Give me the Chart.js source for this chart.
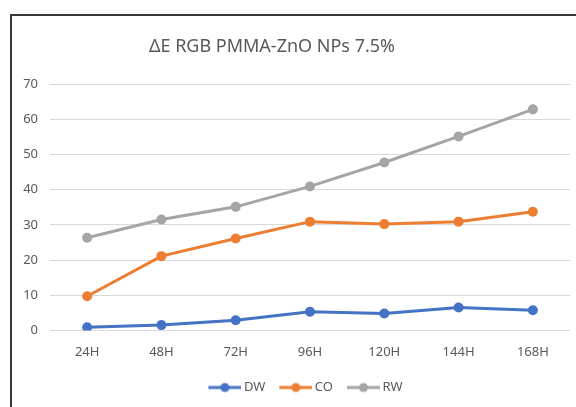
<!DOCTYPE html>
<html>
<head>
<meta charset="utf-8">
<script src="https://cdn.jsdelivr.net/npm/chart.js@4/dist/chart.umd.min.js"></script>
<style>
  html, body { margin: 0; padding: 0; background: #fff; overflow: hidden; }
  #wrap { position: relative; width: 576px; height: 407px; overflow: hidden; }
  #title { position: absolute; left: 0; width: 544px; top: 33px; text-align: center;
           font-family: "Noto Sans", sans-serif; font-size: 18px; color: #595959; }
  canvas { position: absolute; left: 0; top: 0; }
</style>
</head>
<body>
<div id="wrap">
  <canvas id="c" width="576" height="407"></canvas>
  <div id="title">ΔE RGB PMMA-ZnO NPs 7.5%</div>
</div>
<script>
const categories = ["24H", "48H", "72H", "96H", "120H", "144H", "168H"];
const dwValues = [0.9, 1.5, 2.9, 5.3, 4.8, 6.5, 5.7];
const coValues = [9.7, 21.1, 26.1, 30.9, 30.2, 30.9, 33.7];
const rwValues = [26.3, 31.5, 35.1, 40.9, 47.7, 55.1, 62.8];
const seriesNames = ["DW", "CO", "RW"];
const seriesColors = ["#4472C4", "#ED7D31", "#A5A5A5"];

function legendIcon(color) {
  const cv = document.createElement('canvas');
  cv.width = 44; cv.height = 12;
  const ctx = cv.getContext('2d');
  ctx.strokeStyle = color; ctx.lineWidth = 3;
  ctx.beginPath(); ctx.moveTo(11, 6); ctx.lineTo(44, 6); ctx.stroke();
  ctx.fillStyle = color;
  ctx.beginPath(); ctx.arc(27.5, 6, 4.5, 0, Math.PI * 2); ctx.fill();
  return cv;
}

const framePlugin = {
  id: 'frame',
  beforeDraw(chart) {
    const ctx = chart.ctx;
    ctx.save();
    ctx.strokeStyle = '#3a3a3a';
    ctx.lineWidth = 2;
    ctx.beginPath();
    ctx.moveTo(11, chart.height + 5);
    ctx.lineTo(11, 15);
    ctx.lineTo(chart.width + 5, 15);
    ctx.stroke();
    ctx.restore();
  },
  afterLayout(chart) {
    if (chart.legend) {
      chart.legend.left += 12;
      chart.legend.right += 12;
    }
  }
};

const allValues = [dwValues, coValues, rwValues];
const datasets = allValues.map((vals, i) => ({
  label: seriesNames[i],
  data: vals,
  borderColor: seriesColors[i],
  backgroundColor: seriesColors[i],
  borderWidth: 3,
  pointRadius: 5,
  pointHoverRadius: 5,
  pointBorderWidth: 0,
  tension: 0,
  pointStyle: 'circle'
}));

new Chart(document.getElementById('c'), {
  type: 'line',
  data: { labels: categories, datasets },
  plugins: [framePlugin],
  options: {
    responsive: false,
    animation: false,
    devicePixelRatio: 1,
    layout: { padding: { left: 10, right: 6, top: 84, bottom: 3 } },
    plugins: {
      title: { display: false },
      tooltip: { enabled: false },
      legend: {
        position: 'bottom',
        labels: {
          usePointStyle: true,
          pointStyleWidth: 36,
          padding: 7,
          color: '#595959',
          font: { family: 'Noto Sans', size: 13 },
          generateLabels: (chart) => chart.data.datasets.map((d, i) => ({
            text: d.label,
            fillStyle: d.borderColor,
            strokeStyle: d.borderColor,
            fontColor: '#595959',
            lineWidth: 0,
            pointStyle: legendIcon(d.borderColor),
            datasetIndex: i,
            hidden: false
          }))
        }
      }
    },
    scales: {
      x: {
        offset: true,
        grid: { display: false, drawTicks: false },
        border: { display: false },
        ticks: { color: '#595959', font: { family: 'Noto Sans', size: 13 }, padding: 14 }
      },
      y: {
        min: 0, max: 70,
        ticks: { stepSize: 10, color: '#595959', font: { family: 'Noto Sans', size: 13 }, padding: 12 },
        grid: { color: '#d9d9d9', lineWidth: 1, drawTicks: false },
        border: { display: false },
        afterFit: (s) => { s.width = 40; }
      }
    }
  }
});
</script>
</body>
</html>
